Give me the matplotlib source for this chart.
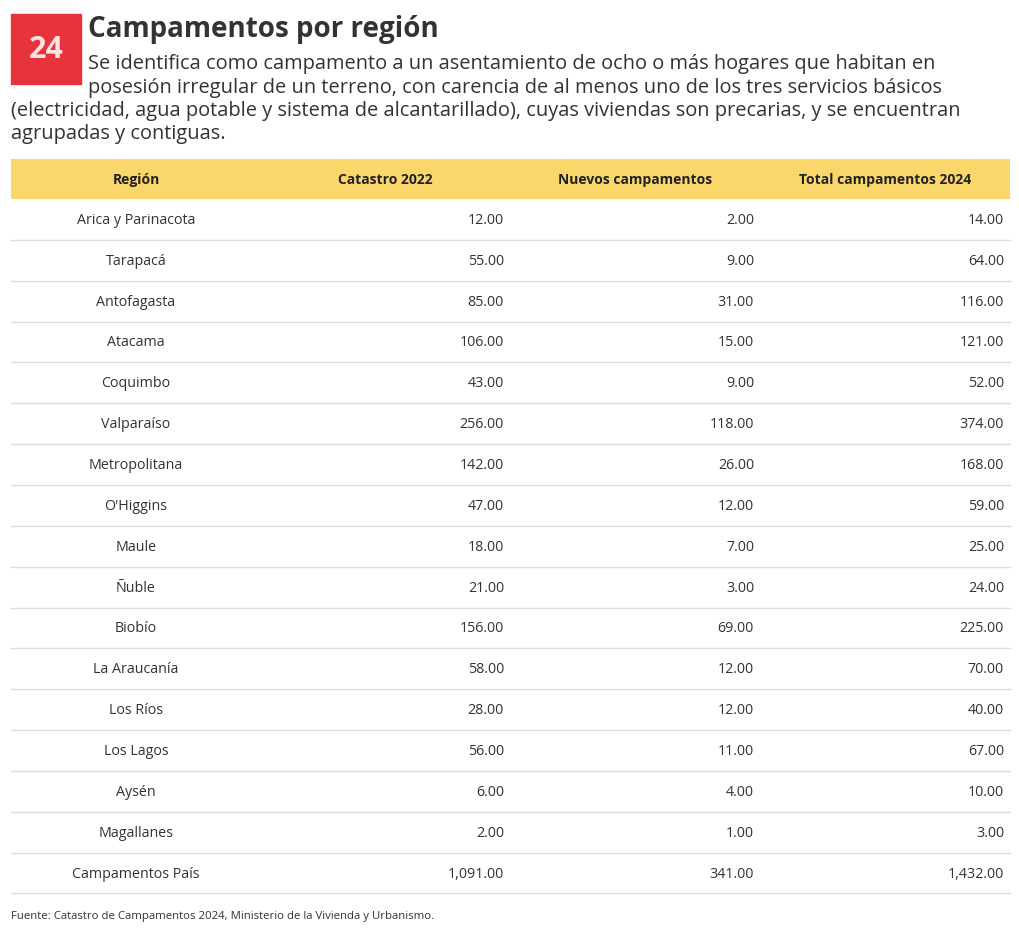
import matplotlib.pyplot as plt
from matplotlib.patches import Rectangle

regions = ['Arica y Parinacota', 'Tarapacá', 'Antofagasta', 'Atacama', 'Coquimbo',
           'Valparaíso', 'Metropolitana', "O'Higgins", 'Maule', 'Ñuble', 'Biobío',
           'La Araucanía', 'Los Ríos', 'Los Lagos', 'Aysén', 'Magallanes',
           'Campamentos País']
catastro_2022 = [12, 55, 85, 106, 43, 256, 142, 47, 18, 21, 156, 58, 28, 56, 6, 2, 1091]
nuevos = [2, 9, 31, 15, 9, 118, 26, 12, 7, 3, 69, 12, 12, 11, 4, 1, 341]
total_2024 = [14, 64, 116, 121, 52, 374, 168, 59, 25, 24, 225, 70, 40, 67, 10, 3, 1432]
headers = ['Región', 'Catastro 2022', 'Nuevos campamentos', 'Total campamentos 2024']

title = 'Campamentos por región'
subtitle = [
    'Se identifica como campamento a un asentamiento de ocho o más hogares que habitan en',
    'posesión irregular de un terreno, con carencia de al menos uno de los tres servicios básicos',
    '(electricidad, agua potable y sistema de alcantarillado), cuyas viviendas son precarias, y se encuentran',
    'agrupadas y contiguas.',
]
source = 'Fuente: Catastro de Campamentos 2024, Ministerio de la Vivienda y Urbanismo.'

plt.rcParams['font.family'] = ['Open Sans', 'DejaVu Sans']

W, H = 1020, 934
fig = plt.figure(figsize=(W / 100, H / 100), dpi=100)
ax = fig.add_axes([0, 0, 1, 1])
ax.set_xlim(0, W)
ax.set_ylim(H, 0)
ax.axis('off')

# logo
ax.add_patch(Rectangle((11, 14), 70, 70, color='#e8323c'))
ax.text(46, 50, '24', color='#fbe3e3', fontsize=22, fontweight='bold',
        ha='center', va='center')

ax.text(88, 30, title, fontsize=20, fontweight='bold', color='#333333',
        va='center', ha='left')
sub_y = [64, 88, 111, 134]
sub_x = [88, 88, 11, 11]
for line, x, y in zip(subtitle, sub_x, sub_y):
    ax.text(x, y, line, fontsize=14.4, color='#333333', va='center', ha='left')

# table
left, right = 11, 1010
col_edges = [11, 261, 510, 760, 1010]
head_top, head_bot = 159, 199
row_h = 40.85

ax.add_patch(Rectangle((left, head_top), right - left, head_bot - head_top,
                       color='#fad66b', lw=0))
for i, h in enumerate(headers):
    cx = (col_edges[i] + col_edges[i + 1]) / 2
    ax.text(cx, (head_top + head_bot) / 2 + 1, h, fontsize=10, fontweight='bold',
            color='#222222', ha='center', va='center')

for r, name in enumerate(regions):
    y0 = head_bot + r * row_h
    cy = y0 + row_h / 2 + 1
    ax.text((col_edges[0] + col_edges[1]) / 2, cy, name, fontsize=10.3,
            color='#333333', ha='center', va='center')
    for c, col in enumerate([catastro_2022, nuevos, total_2024]):
        ax.text(col_edges[c + 2] - 6, cy, f'{col[r]:,.2f}', fontsize=10.3,
                color='#333333', ha='right', va='center')
    ax.plot([left, right], [y0 + row_h, y0 + row_h], color='#dddddd', lw=1)

ax.text(11, 916, source, fontsize=8.2, color='#333333', ha='left', va='center')

fig.savefig('out.png', dpi=100)
